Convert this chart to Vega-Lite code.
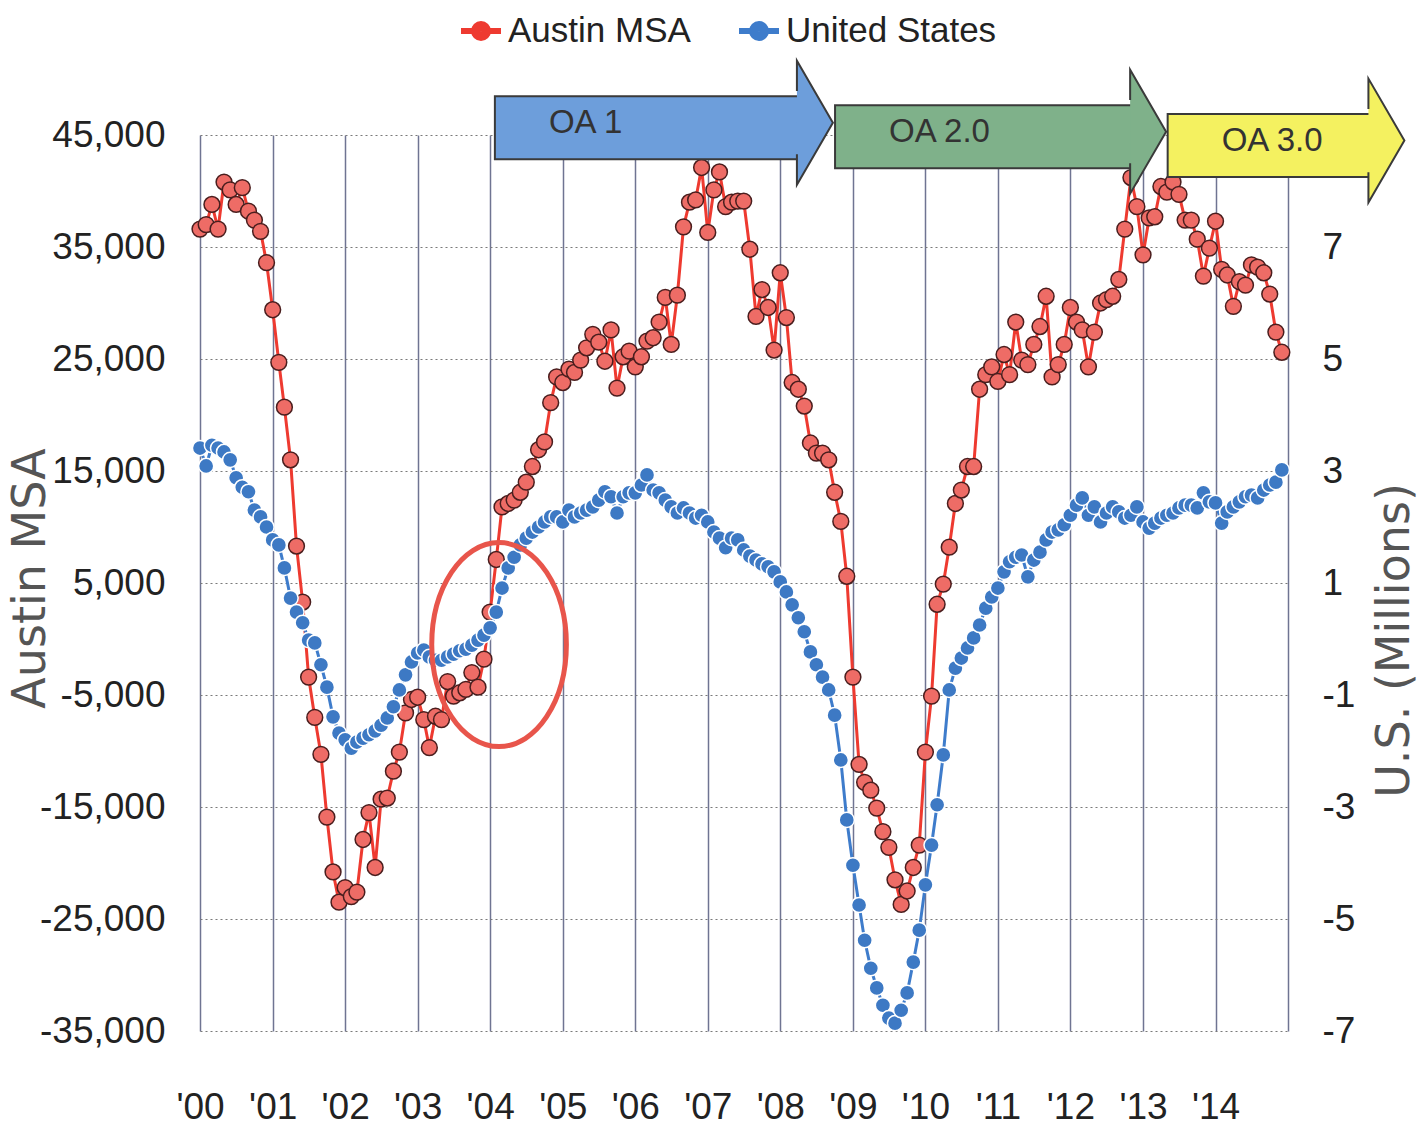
{
  "$schema": "https://vega.github.io/schema/vega-lite/v6.json",
  "width": 1088,
  "height": 896,
  "autosize": {"type": "none"},
  "padding": {"left": 200, "top": 135, "right": 136, "bottom": 106},
  "background": "white",
  "config": {
    "locale": {"number": {"decimal": ".", "thousands": ",", "grouping": [3], "currency": ["$", ""], "minus": "-"}},
    "view": {"stroke": null},
    "axis": {
      "labelFont": "Liberation Sans",
      "labelFontSize": 37,
      "labelColor": "#222222",
      "domain": false,
      "ticks": false,
      "titleFont": "DejaVu Sans",
      "titleFontSize": 46,
      "titleFontWeight": "normal",
      "titleColor": "#555555"
    }
  },
  "datasets": {
    "austin": [
      {"date":"2000-01","value":36600},{"date":"2000-02","value":37000},{"date":"2000-03","value":38800},{"date":"2000-04","value":36600},{"date":"2000-05","value":40800},{"date":"2000-06","value":40100},{"date":"2000-07","value":38800},{"date":"2000-08","value":40300},{"date":"2000-09","value":38200},{"date":"2000-10","value":37400},{"date":"2000-11","value":36400},{"date":"2000-12","value":33600},
      {"date":"2001-01","value":29400},{"date":"2001-02","value":24700},{"date":"2001-03","value":20700},{"date":"2001-04","value":16000},{"date":"2001-05","value":8300},{"date":"2001-06","value":3300},{"date":"2001-07","value":-3400},{"date":"2001-08","value":-7000},{"date":"2001-09","value":-10300},{"date":"2001-10","value":-15900},{"date":"2001-11","value":-20800},{"date":"2001-12","value":-23500},
      {"date":"2002-01","value":-22200},{"date":"2002-02","value":-23000},{"date":"2002-03","value":-22600},{"date":"2002-04","value":-17900},{"date":"2002-05","value":-15500},{"date":"2002-06","value":-20400},{"date":"2002-07","value":-14300},{"date":"2002-08","value":-14200},{"date":"2002-09","value":-11800},{"date":"2002-10","value":-10100},{"date":"2002-11","value":-6600},{"date":"2002-12","value":-5400},
      {"date":"2003-01","value":-5200},{"date":"2003-02","value":-7200},{"date":"2003-03","value":-9700},{"date":"2003-04","value":-6900},{"date":"2003-05","value":-7200},{"date":"2003-06","value":-3800},{"date":"2003-07","value":-5100},{"date":"2003-08","value":-4800},{"date":"2003-09","value":-4500},{"date":"2003-10","value":-3000},{"date":"2003-11","value":-4300},{"date":"2003-12","value":-1800},
      {"date":"2004-01","value":2400},{"date":"2004-02","value":7100},{"date":"2004-03","value":11800},{"date":"2004-04","value":12100},{"date":"2004-05","value":12400},{"date":"2004-06","value":13100},{"date":"2004-07","value":14000},{"date":"2004-08","value":15400},{"date":"2004-09","value":16900},{"date":"2004-10","value":17600},{"date":"2004-11","value":21100},{"date":"2004-12","value":23400},
      {"date":"2005-01","value":22900},{"date":"2005-02","value":24100},{"date":"2005-03","value":23800},{"date":"2005-04","value":24900},{"date":"2005-05","value":26000},{"date":"2005-06","value":27200},{"date":"2005-07","value":26500},{"date":"2005-08","value":24800},{"date":"2005-09","value":27600},{"date":"2005-10","value":22400},{"date":"2005-11","value":25200},{"date":"2005-12","value":25700},
      {"date":"2006-01","value":24300},{"date":"2006-02","value":25200},{"date":"2006-03","value":26600},{"date":"2006-04","value":26900},{"date":"2006-05","value":28300},{"date":"2006-06","value":30500},{"date":"2006-07","value":26300},{"date":"2006-08","value":30700},{"date":"2006-09","value":36800},{"date":"2006-10","value":39000},{"date":"2006-11","value":39200},{"date":"2006-12","value":42100},
      {"date":"2007-01","value":36300},{"date":"2007-02","value":40100},{"date":"2007-03","value":41700},{"date":"2007-04","value":38600},{"date":"2007-05","value":39000},{"date":"2007-06","value":39100},{"date":"2007-07","value":39100},{"date":"2007-08","value":34800},{"date":"2007-09","value":28800},{"date":"2007-10","value":31200},{"date":"2007-11","value":29600},{"date":"2007-12","value":25800},
      {"date":"2008-01","value":32700},{"date":"2008-02","value":28700},{"date":"2008-03","value":22900},{"date":"2008-04","value":22300},{"date":"2008-05","value":20800},{"date":"2008-06","value":17500},{"date":"2008-07","value":16600},{"date":"2008-08","value":16600},{"date":"2008-09","value":16000},{"date":"2008-10","value":13100},{"date":"2008-11","value":10500},{"date":"2008-12","value":5600},
      {"date":"2009-01","value":-3400},{"date":"2009-02","value":-11200},{"date":"2009-03","value":-12800},{"date":"2009-04","value":-13500},{"date":"2009-05","value":-15100},{"date":"2009-06","value":-17200},{"date":"2009-07","value":-18600},{"date":"2009-08","value":-21500},{"date":"2009-09","value":-23700},{"date":"2009-10","value":-22500},{"date":"2009-11","value":-20400},{"date":"2009-12","value":-18400},
      {"date":"2010-01","value":-10100},{"date":"2010-02","value":-5100},{"date":"2010-03","value":3100},{"date":"2010-04","value":4900},{"date":"2010-05","value":8200},{"date":"2010-06","value":12100},{"date":"2010-07","value":13300},{"date":"2010-08","value":15400},{"date":"2010-09","value":15400},{"date":"2010-10","value":22300},{"date":"2010-11","value":23600},{"date":"2010-12","value":24300},
      {"date":"2011-01","value":23000},{"date":"2011-02","value":25400},{"date":"2011-03","value":23600},{"date":"2011-04","value":28300},{"date":"2011-05","value":24900},{"date":"2011-06","value":24500},{"date":"2011-07","value":26300},{"date":"2011-08","value":27900},{"date":"2011-09","value":30600},{"date":"2011-10","value":23400},{"date":"2011-11","value":24500},{"date":"2011-12","value":26300},
      {"date":"2012-01","value":29600},{"date":"2012-02","value":28300},{"date":"2012-03","value":27600},{"date":"2012-04","value":24300},{"date":"2012-05","value":27400},{"date":"2012-06","value":30000},{"date":"2012-07","value":30300},{"date":"2012-08","value":30600},{"date":"2012-09","value":32100},{"date":"2012-10","value":36600},{"date":"2012-11","value":41200},{"date":"2012-12","value":38600},
      {"date":"2013-01","value":34300},{"date":"2013-02","value":37600},{"date":"2013-03","value":37700},{"date":"2013-04","value":40400},{"date":"2013-05","value":39900},{"date":"2013-06","value":40800},{"date":"2013-07","value":39700},{"date":"2013-08","value":37400},{"date":"2013-09","value":37400},{"date":"2013-10","value":35700},{"date":"2013-11","value":32400},{"date":"2013-12","value":34900},
      {"date":"2014-01","value":37300},{"date":"2014-02","value":33000},{"date":"2014-03","value":32500},{"date":"2014-04","value":29700},{"date":"2014-05","value":31900},{"date":"2014-06","value":31600},{"date":"2014-07","value":33400},{"date":"2014-08","value":33200},{"date":"2014-09","value":32700},{"date":"2014-10","value":30800},{"date":"2014-11","value":27400},{"date":"2014-12","value":25600}
    ],
    "us": [
      {"date":"2000-01","value":3.41},{"date":"2000-02","value":3.09},{"date":"2000-03","value":3.46},{"date":"2000-04","value":3.41},{"date":"2000-05","value":3.34},{"date":"2000-06","value":3.20},{"date":"2000-07","value":2.88},{"date":"2000-08","value":2.71},{"date":"2000-09","value":2.63},{"date":"2000-10","value":2.30},{"date":"2000-11","value":2.18},{"date":"2000-12","value":2.00},
      {"date":"2001-01","value":1.77},{"date":"2001-02","value":1.68},{"date":"2001-03","value":1.27},{"date":"2001-04","value":0.73},{"date":"2001-05","value":0.48},{"date":"2001-06","value":0.29},{"date":"2001-07","value":-0.02},{"date":"2001-08","value":-0.07},{"date":"2001-09","value":-0.46},{"date":"2001-10","value":-0.86},{"date":"2001-11","value":-1.39},{"date":"2001-12","value":-1.68},
      {"date":"2002-01","value":-1.80},{"date":"2002-02","value":-1.95},{"date":"2002-03","value":-1.84},{"date":"2002-04","value":-1.77},{"date":"2002-05","value":-1.71},{"date":"2002-06","value":-1.64},{"date":"2002-07","value":-1.54},{"date":"2002-08","value":-1.41},{"date":"2002-09","value":-1.21},{"date":"2002-10","value":-0.91},{"date":"2002-11","value":-0.64},{"date":"2002-12","value":-0.41},
      {"date":"2003-01","value":-0.25},{"date":"2003-02","value":-0.20},{"date":"2003-03","value":-0.32},{"date":"2003-04","value":-0.38},{"date":"2003-05","value":-0.38},{"date":"2003-06","value":-0.32},{"date":"2003-07","value":-0.27},{"date":"2003-08","value":-0.21},{"date":"2003-09","value":-0.18},{"date":"2003-10","value":-0.11},{"date":"2003-11","value":-0.02},{"date":"2003-12","value":0.07},
      {"date":"2004-01","value":0.20},{"date":"2004-02","value":0.48},{"date":"2004-03","value":0.91},{"date":"2004-04","value":1.27},{"date":"2004-05","value":1.46},{"date":"2004-06","value":1.68},{"date":"2004-07","value":1.80},{"date":"2004-08","value":1.91},{"date":"2004-09","value":2.00},{"date":"2004-10","value":2.09},{"date":"2004-11","value":2.18},{"date":"2004-12","value":2.18},
      {"date":"2005-01","value":2.09},{"date":"2005-02","value":2.30},{"date":"2005-03","value":2.18},{"date":"2005-04","value":2.25},{"date":"2005-05","value":2.30},{"date":"2005-06","value":2.36},{"date":"2005-07","value":2.48},{"date":"2005-08","value":2.63},{"date":"2005-09","value":2.54},{"date":"2005-10","value":2.25},{"date":"2005-11","value":2.54},{"date":"2005-12","value":2.61},
      {"date":"2006-01","value":2.61},{"date":"2006-02","value":2.75},{"date":"2006-03","value":2.93},{"date":"2006-04","value":2.66},{"date":"2006-05","value":2.61},{"date":"2006-06","value":2.48},{"date":"2006-07","value":2.36},{"date":"2006-08","value":2.25},{"date":"2006-09","value":2.34},{"date":"2006-10","value":2.25},{"date":"2006-11","value":2.16},{"date":"2006-12","value":2.21},
      {"date":"2007-01","value":2.09},{"date":"2007-02","value":1.91},{"date":"2007-03","value":1.80},{"date":"2007-04","value":1.63},{"date":"2007-05","value":1.80},{"date":"2007-06","value":1.77},{"date":"2007-07","value":1.59},{"date":"2007-08","value":1.48},{"date":"2007-09","value":1.41},{"date":"2007-10","value":1.34},{"date":"2007-11","value":1.29},{"date":"2007-12","value":1.20},
      {"date":"2008-01","value":1.02},{"date":"2008-02","value":0.84},{"date":"2008-03","value":0.61},{"date":"2008-04","value":0.38},{"date":"2008-05","value":0.13},{"date":"2008-06","value":-0.23},{"date":"2008-07","value":-0.46},{"date":"2008-08","value":-0.68},{"date":"2008-09","value":-0.91},{"date":"2008-10","value":-1.36},{"date":"2008-11","value":-2.16},{"date":"2008-12","value":-3.23},
      {"date":"2009-01","value":-4.04},{"date":"2009-02","value":-4.75},{"date":"2009-03","value":-5.38},{"date":"2009-04","value":-5.88},{"date":"2009-05","value":-6.23},{"date":"2009-06","value":-6.54},{"date":"2009-07","value":-6.77},{"date":"2009-08","value":-6.86},{"date":"2009-09","value":-6.63},{"date":"2009-10","value":-6.32},{"date":"2009-11","value":-5.77},{"date":"2009-12","value":-5.20},
      {"date":"2010-01","value":-4.39},{"date":"2010-02","value":-3.68},{"date":"2010-03","value":-2.96},{"date":"2010-04","value":-2.07},{"date":"2010-05","value":-0.91},{"date":"2010-06","value":-0.52},{"date":"2010-07","value":-0.34},{"date":"2010-08","value":-0.16},{"date":"2010-09","value":0.02},{"date":"2010-10","value":0.25},{"date":"2010-11","value":0.55},{"date":"2010-12","value":0.75},
      {"date":"2011-01","value":0.91},{"date":"2011-02","value":1.20},{"date":"2011-03","value":1.38},{"date":"2011-04","value":1.46},{"date":"2011-05","value":1.50},{"date":"2011-06","value":1.11},{"date":"2011-07","value":1.41},{"date":"2011-08","value":1.55},{"date":"2011-09","value":1.77},{"date":"2011-10","value":1.91},{"date":"2011-11","value":1.95},{"date":"2011-12","value":2.04},
      {"date":"2012-01","value":2.21},{"date":"2012-02","value":2.39},{"date":"2012-03","value":2.52},{"date":"2012-04","value":2.21},{"date":"2012-05","value":2.36},{"date":"2012-06","value":2.09},{"date":"2012-07","value":2.25},{"date":"2012-08","value":2.36},{"date":"2012-09","value":2.27},{"date":"2012-10","value":2.16},{"date":"2012-11","value":2.21},{"date":"2012-12","value":2.36},
      {"date":"2013-01","value":2.09},{"date":"2013-02","value":1.98},{"date":"2013-03","value":2.07},{"date":"2013-04","value":2.16},{"date":"2013-05","value":2.21},{"date":"2013-06","value":2.25},{"date":"2013-07","value":2.34},{"date":"2013-08","value":2.39},{"date":"2013-09","value":2.39},{"date":"2013-10","value":2.34},{"date":"2013-11","value":2.61},{"date":"2013-12","value":2.45},
      {"date":"2014-01","value":2.43},{"date":"2014-02","value":2.07},{"date":"2014-03","value":2.27},{"date":"2014-04","value":2.36},{"date":"2014-05","value":2.45},{"date":"2014-06","value":2.54},{"date":"2014-07","value":2.57},{"date":"2014-08","value":2.52},{"date":"2014-09","value":2.66},{"date":"2014-10","value":2.75},{"date":"2014-11","value":2.80},{"date":"2014-12","value":3.02}
    ],
    "arrows": [
      {"label":"OA 1","start":"2004-01-25","end":"2008-03-25","level":46100},
      {"label":"OA 2.0","start":"2008-10-03","end":"2012-10-28","level":45300},
      {"label":"OA 3.0","start":"2013-05-05","end":"2016-02-10","level":44500}
    ],
    "highlight": [
      {"date":"2004-02-15","value":-500}
    ]
  },
  "layer": [
    {
      "mark": {"type": "rule", "color": "#8f8f8f", "strokeWidth": 1.8},
      "encoding": {
        "y": {"datum": 0, "type": "quantitative", "scale": {"domain": [-35000, 45000], "nice": false, "zero": false}, "axis": null}
      }
    },
    {
      "data": {"name": "austin"},
      "mark": {"type": "line", "strokeWidth": 3},
      "encoding": {
        "x": {
          "field": "date", "type": "temporal",
          "scale": {"type": "utc", "domain": [{"year": 2000, "utc": true}, {"year": 2015, "utc": true}]},
          "axis": {
            "title": null,
            "values": [{"year":2000,"utc":true},{"year":2001,"utc":true},{"year":2002,"utc":true},{"year":2003,"utc":true},{"year":2004,"utc":true},{"year":2005,"utc":true},{"year":2006,"utc":true},{"year":2007,"utc":true},{"year":2008,"utc":true},{"year":2009,"utc":true},{"year":2010,"utc":true},{"year":2011,"utc":true},{"year":2012,"utc":true},{"year":2013,"utc":true},{"year":2014,"utc":true},{"year":2015,"utc":true}],
            "format": "'%y",
            "labelExpr": "utcyear(datum.value) > 2014 ? '' : datum.label",
            "grid": true,
            "gridColor": "#6f7492",
            "gridWidth": 1.5,
            "labelPadding": 58,
            "labelFlush": false,
            "labelOverlap": false
          }
        },
        "y": {
          "field": "value", "type": "quantitative",
          "scale": {"domain": [-35000, 45000], "nice": false, "zero": false},
          "axis": {
            "orient": "left",
            "title": "Austin MSA",
            "values": [-35000, -25000, -15000, -5000, 5000, 15000, 25000, 35000, 45000],
            "format": ",.0f",
            "grid": true,
            "gridColor": "#7a7a7a",
            "gridDash": [2, 3],
            "gridWidth": 1.2,
            "labelPadding": 35,
            "titleX": -170,
            "titleY": 443,
            "titleAngle": 270,
            "titleAlign": "center",
            "titleBaseline": "middle"
          }
        },
        "color": {
          "datum": "Austin MSA", "type": "nominal",
          "scale": {"domain": ["Austin MSA", "United States"], "range": ["#EE3A30", "#3E7CCB"]},
          "legend": {
            "orient": "none",
            "legendX": 258,
            "legendY": -127,
            "direction": "horizontal",
            "title": null,
            "padding": 0,
            "labelFont": "Liberation Sans",
            "labelFontSize": 35,
            "labelColor": "#222222",
            "labelOffset": 4,
            "columnPadding": 36,
            "symbolType": "M -1 0 L -0.35 0 M 0.35 0 A 0.35 0.35 0 1 1 -0.35 0 A 0.35 0.35 0 1 1 0.35 0 L 1 0 M 0.14 0 A 0.14 0.14 0 1 1 -0.14 0 A 0.14 0.14 0 1 1 0.14 0",
            "symbolSize": 1600,
            "symbolStrokeWidth": 6,
            "symbolOpacity": 1,
            "labelLimit": 400
          }
        }
      }
    },
    {
      "data": {"name": "austin"},
      "mark": {"type": "point", "filled": true, "opacity": 1, "size": 250, "fill": "#EE6C66", "stroke": "#4a1e1e", "strokeWidth": 1.5},
      "encoding": {
        "x": {"field": "date", "type": "temporal", "scale": {"type": "utc", "domain": [{"year": 2000, "utc": true}, {"year": 2015, "utc": true}]}, "axis": {"title": null}},
        "y": {"field": "value", "type": "quantitative", "scale": {"domain": [-35000, 45000], "nice": false, "zero": false}, "axis": null}
      }
    },
    {
      "data": {"name": "us"},
      "mark": {"type": "line", "strokeWidth": 3},
      "encoding": {
        "x": {"field": "date", "type": "temporal", "scale": {"type": "utc", "domain": [{"year": 2000, "utc": true}, {"year": 2015, "utc": true}]}, "axis": {"title": null}},
        "y": {
          "field": "value", "type": "quantitative",
          "scale": {"domain": [-7, 9], "nice": false, "zero": false},
          "axis": {
            "orient": "right",
            "title": "U.S. (Millions)",
            "values": [-7, -5, -3, -1, 1, 3, 5, 7],
            "grid": false,
            "labelPadding": 34,
            "titleX": 106,
            "titleY": 505,
            "titleAngle": 270,
            "titleAlign": "center",
            "titleBaseline": "middle"
          }
        },
        "color": {"datum": "United States", "type": "nominal"}
      }
    },
    {
      "data": {"name": "us"},
      "mark": {"type": "point", "filled": true, "opacity": 1, "size": 230, "fill": "#3D79C4", "stroke": "white", "strokeWidth": 1.5},
      "encoding": {
        "x": {"field": "date", "type": "temporal", "scale": {"type": "utc", "domain": [{"year": 2000, "utc": true}, {"year": 2015, "utc": true}]}, "axis": {"title": null}},
        "y": {"field": "value", "type": "quantitative", "scale": {"domain": [-7, 9], "nice": false, "zero": false}, "axis": null}
      }
    },
    {
      "data": {"name": "highlight"},
      "mark": {"type": "point", "filled": false, "opacity": 1, "shape": "M -0.66 0 A 0.66 1 0 1 1 0.66 0 A 0.66 1 0 1 1 -0.66 0", "size": 41616, "stroke": "#E8554B", "strokeWidth": 5},
      "encoding": {
        "x": {"field": "date", "type": "temporal", "scale": {"type": "utc", "domain": [{"year": 2000, "utc": true}, {"year": 2015, "utc": true}]}, "axis": {"title": null}},
        "y": {"field": "value", "type": "quantitative", "scale": {"domain": [-35000, 45000], "nice": false, "zero": false}, "axis": null}
      }
    },
    {
      "data": {"name": "arrows"},
      "mark": {"type": "bar", "height": 63, "stroke": "#3a3a3a", "strokeWidth": 2, "x2Offset": 3, "opacity": 1, "clip": false},
      "encoding": {
        "x": {"field": "start", "type": "temporal", "scale": {"type": "utc", "domain": [{"year": 2000, "utc": true}, {"year": 2015, "utc": true}]}, "axis": {"title": null}},
        "x2": {"field": "end"},
        "y": {"field": "level", "type": "quantitative", "scale": {"domain": [-35000, 45000], "nice": false, "zero": false}, "axis": null},
        "fill": {"field": "label", "type": "nominal", "scale": {"domain": ["OA 1", "OA 2.0", "OA 3.0"], "range": ["#6D9EDB", "#7FB18A", "#F4F160"]}, "legend": null}
      }
    },
    {
      "data": {"name": "arrows"},
      "mark": {"type": "point", "filled": true, "opacity": 1, "shape": "M 0 -0.51 L 0 -1 L 0.58 0 L 0 1 L 0 0.51", "size": 15376, "stroke": "#3a3a3a", "strokeWidth": 2, "clip": false},
      "encoding": {
        "x": {"field": "end", "type": "temporal", "scale": {"type": "utc", "domain": [{"year": 2000, "utc": true}, {"year": 2015, "utc": true}]}, "axis": {"title": null}},
        "y": {"field": "level", "type": "quantitative", "scale": {"domain": [-35000, 45000], "nice": false, "zero": false}, "axis": null},
        "fill": {"field": "label", "type": "nominal", "legend": null}
      }
    },
    {
      "data": {"name": "arrows"},
      "mark": {"type": "text", "align": "left", "baseline": "middle", "dx": 54, "font": "Liberation Sans", "fontSize": 33, "color": "#333333", "clip": false},
      "encoding": {
        "x": {"field": "start", "type": "temporal", "scale": {"type": "utc", "domain": [{"year": 2000, "utc": true}, {"year": 2015, "utc": true}]}, "axis": {"title": null}},
        "y": {"field": "level", "type": "quantitative", "scale": {"domain": [-35000, 45000], "nice": false, "zero": false}, "axis": null},
        "text": {"field": "label"}
      }
    }
  ],
  "resolve": {"scale": {"y": "independent"}}
}
